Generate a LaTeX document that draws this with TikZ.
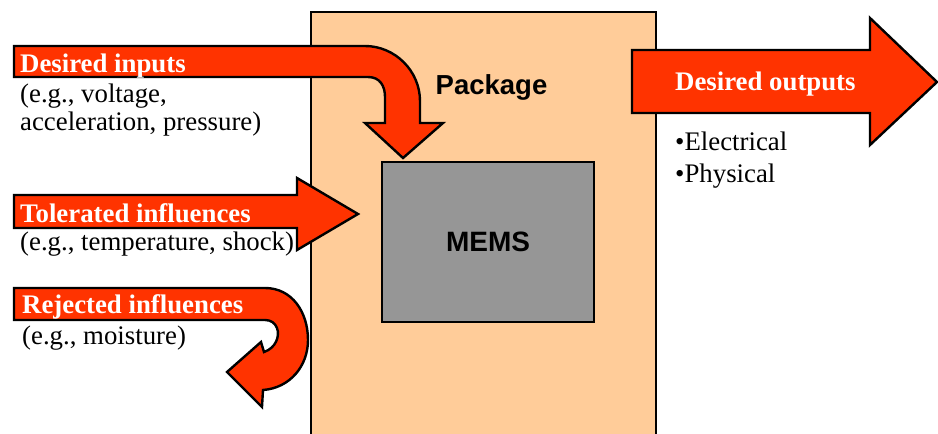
\documentclass[tikz,border=0pt]{standalone}
\usepackage{fontspec}
\setmainfont{Liberation Serif}
\newfontfamily\sansbold{Liberation Sans}
\definecolor{peach}{HTML}{FFCC99}
\definecolor{memsgray}{HTML}{969696}
\definecolor{arrred}{HTML}{FF3300}
\begin{document}
\begin{tikzpicture}[x=1pt,y=-1pt,
  arrowshape/.style={fill=arrred, draw=black, line width=2.4pt, line join=miter},
  boxshape/.style={draw=black, line width=2.4pt, inner sep=0pt},
  lbl/.style={anchor=base west, inner sep=0pt, font=\fontsize{26.8}{28}\selectfont},
  wlbl/.style={anchor=base west, inner sep=0pt, text=white, font=\fontsize{26.8}{28}\selectfont\bfseries},
  sanslbl/.style={inner sep=0pt, font=\sansbold\bfseries\fontsize{27.5}{30}\selectfont}]
\useasboundingbox (0,0) rectangle (938,434);
\clip (0,0) rectangle (938,434);
% package
\node[boxshape, fill=peach, minimum width=345pt, minimum height=440pt] (pkg) at (483.5,232) {};
\node[sanslbl, anchor=base] (pkglbl) at (491.5,94) {Package};
% MEMS
\node[boxshape, fill=memsgray, minimum width=212pt, minimum height=160pt, font=\sansbold\bfseries\fontsize{28}{30}\selectfont] (mems) at (488,242) {MEMS};
% desired inputs arrow
\draw[arrowshape] (14,46) -- (365,46) .. controls (395,46) and (420,71) .. (420,101)
  -- (420,123) -- (443,123) -- (403,158) -- (365,123) -- (385,123) -- (385,97)
  .. controls (385,86) and (380,77) .. (368,77) -- (14,77) -- cycle;
% tolerated influences arrow
\draw[arrowshape] (14,195) -- (297,195) -- (297,178) -- (358,214) -- (297,250) -- (297,228) -- (14,228) -- cycle;
% rejected influences arrow
\draw[arrowshape] (14,288) -- (265,288) .. controls (292,288) and (308,312) .. (308,340)
  .. controls (308,366) and (290,388) .. (263,390) -- (262,407) -- (227,372) -- (261,342) -- (264,352)
  .. controls (276,348) and (280,336) .. (277,328) .. controls (275,323) and (271,320) .. (265,320)
  -- (14,320) -- cycle;
% desired outputs arrow
\draw[arrowshape] (632,50) -- (870,50) -- (870,18) -- (937,82) -- (870,145) -- (870,113) -- (632,113) -- cycle;
% labels
\node[wlbl] (din) at (20,72) {Desired inputs};
\node[lbl] (din1) at (20,102) {(e.g., voltage,};
\node[lbl] (din2) at (20,130) {acceleration, pressure)};
\node[wlbl] (tol) at (20,222) {Tolerated influences};
\node[lbl] (tol1) at (20,250) {(e.g., temperature, shock)};
\node[wlbl] (rej) at (22,313) {Rejected influences};
\node[lbl] (rej1) at (22,344) {(e.g., moisture)};
\node[wlbl] (dout) at (675,90) {Desired outputs};
\node[lbl] (dout1) at (675,150) {•Electrical};
\node[lbl] (dout2) at (675,182) {•Physical};
\end{tikzpicture}
\end{document}
